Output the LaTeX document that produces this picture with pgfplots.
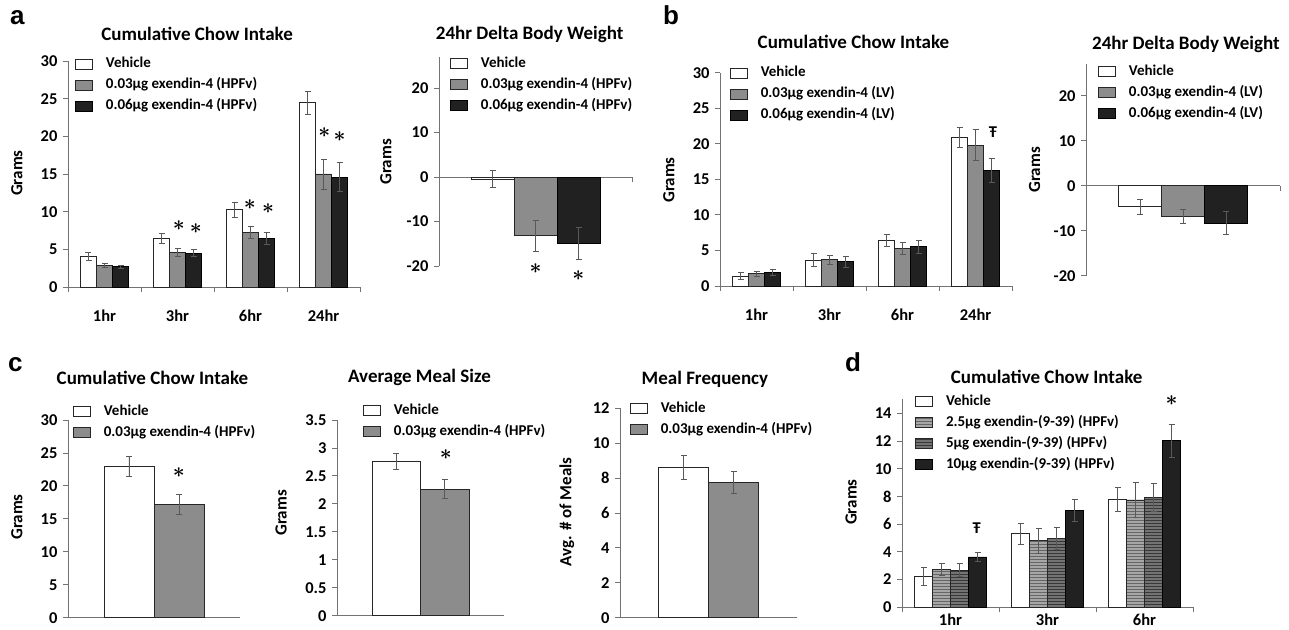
\documentclass[border=0pt]{standalone}
\usepackage{fontspec}
\setmainfont{Carlito}
\newfontfamily\letterfont{Liberation Sans}
\usepackage{pgfplots}
\pgfplotsset{compat=1.18}
\usetikzlibrary{patterns}

\newcommand\tlf{\fontsize{16.5}{18}\selectfont\bfseries}
\newcommand\lgf{\fontsize{15}{16}\selectfont\bfseries}
\newcommand\ttf{\fontsize{19}{21}\selectfont\bfseries}
\newcommand\ylf{\fontsize{17}{19}\selectfont\bfseries}
\newcommand\starf{\fontsize{21.5}{21.5}\selectfont\boldmath}
\newcommand\mystar{$\ast$}
\tikzset{st/.style={font=\starf, inner sep=0pt}}

\pgfplotsset{
  base/.style={
    scale only axis, anchor=south west, clip=false,
    axis y line*=left,
    tick align=outside, major tick length=5pt, minor tick length=5pt,
    axis line style={black!55, line width=0.9pt},
    tick style={black!55, line width=0.9pt},
    ytick pos=left,
    ticklabel style={font=\tlf},
    /pgf/number format/assume math mode=true,
    ylabel style={font=\ylf, anchor=center},
    title style={font=\ttf, anchor=center, yshift=-6pt},
    yticklabel style={xshift=-2pt},
    ybar=0pt,
    area legend,
    legend image code/.code={\draw[##1, line width=0.7pt] (0pt,-5pt) rectangle (17pt,5pt);},
    legend style={draw=none, fill=none, font=\lgf, anchor=north west, inner sep=0pt,
      row sep=8pt, column sep=13pt, legend cell align=left,
      nodes={inner sep=0pt, text height=10pt, text depth=3pt}},
  },
  cat/.style={axis x line*=bottom, every major x tick/.append style={draw=none},
    xticklabel style={yshift=-14pt}},
  delta/.style={axis x line*=middle, xmin=-0.5, xmax=0.5, xtick={0.5}, xticklabel={\phantom{0}},
    ymin=-20, ymax=27, ytick={-20,-10,0,10,20}, bar width=43pt},
  two/.style={axis x line*=bottom, xmin=-0.5, xmax=0.5, xtick=\empty},
  eb/.style={/pgfplots/error bars/y dir=both, /pgfplots/error bars/y explicit,
    /pgfplots/error bars/error bar style={black!65, line width=0.7pt},
    /pgfplots/error bars/error mark options={rotate=90, mark size=3pt, black!65, line width=0.7pt}},
  wb/.style={fill=white, draw=black!85, line width=0.7pt, eb},
  gb/.style={fill=black!45, draw=black!85, line width=0.7pt, eb},
  kb/.style={fill=black!87, draw=black, line width=0.7pt, eb},
  lsb/.style={fill=black!35, draw=black!85, line width=0.7pt, postaction={pattern=horizontal lines, pattern color=black!60}, eb},
  dsb/.style={fill=black!55, draw=black!85, line width=0.7pt, postaction={pattern=horizontal lines, pattern color=black!78}, eb},
}

\begin{document}
\begin{tikzpicture}
\useasboundingbox (0pt,0pt) rectangle (1289pt,629pt);
\fill[white] (0pt,0pt) rectangle (1289pt,629pt);

% ---------------- panel a, left
\begin{axis}[base, cat, at={(68pt,342pt)}, width=292pt, height=226pt,
  ymin=0, ymax=30, ytick={0,5,...,30}, xmin=-0.5, xmax=3.5,
  xtick={0,1,2,3}, xticklabels={1hr,3hr,6hr,24hr}, minor xtick={-0.5,0.5,1.5,2.5,3.5},
  bar width=16pt,
  title={Cumulative Chow Intake}, title style={at={(axis description cs:0.442,1.119)}},
  ylabel={Grams}, ylabel style={at={(axis description cs:-0.175,0.504)}},
  legend style={at={(axis description cs:0.024,1.015)}}]
\addplot[wb] coordinates {(0,4.1) +- (0,0.5) (1,6.45) +- (0,0.7) (2,10.3) +- (0,1.0) (3,24.45) +- (0,1.55)};
\addplot[gb] coordinates {(0,2.9) +- (0,0.25) (1,4.6) +- (0,0.55) (2,7.2) +- (0,0.8) (3,15.0) +- (0,2.0)};
\addplot[kb] coordinates {(0,2.7) +- (0,0.2) (1,4.5) +- (0,0.45) (2,6.45) +- (0,0.75) (3,14.6) +- (0,1.9)};
\legend{Vehicle, 0.03µg exendin-4 (HPFv), 0.06µg exendin-4 (HPFv)}
\node[st] at (axis cs:1.02,8.2) {\mystar};
\node[st] at (axis cs:1.25,7.7) {\mystar};
\node[st] at (axis cs:1.99,11.0) {\mystar};
\node[st] at (axis cs:2.24,10.45) {\mystar};
\node[st] at (axis cs:3.01,20.5) {\mystar};
\node[st] at (axis cs:3.22,20.0) {\mystar};
\end{axis}

% ---------------- panel a, right
\begin{axis}[base, delta, at={(439pt,363pt)}, width=193pt, height=209pt,
  title={24hr Delta Body Weight}, title style={at={(axis description cs:0.47,1.11)}},
  ylabel={Grams}, ylabel style={at={(axis description cs:-0.275,0.498)}},
  legend style={at={(axis description cs:0.057,1.0)}}]
\addplot[wb] coordinates {(0,-0.5) +- (0,1.9)};
\addplot[gb] coordinates {(0,-13.2) +- (0,3.5)};
\addplot[kb] coordinates {(0,-14.9) +- (0,3.6)};
\legend{Vehicle, 0.03µg exendin-4 (HPFv), 0.06µg exendin-4 (HPFv)}
\node[st] at (axis cs:0.0,-20.5) {\mystar};
\node[st] at (axis cs:0.222,-22.25) {\mystar};
\end{axis}

% ---------------- panel b, left
\begin{axis}[base, cat, at={(720pt,343pt)}, width=292pt, height=213.3pt,
  ymin=0, ymax=30, ytick={0,5,...,30}, xmin=-0.5, xmax=3.5,
  xtick={0,1,2,3}, xticklabels={1hr,3hr,6hr,24hr}, minor xtick={-0.5,0.5,1.5,2.5,3.5},
  bar width=16pt,
  title={Cumulative Chow Intake}, title style={at={(axis description cs:0.457,1.146)}},
  ylabel={Grams}, ylabel style={at={(axis description cs:-0.175,0.497)}},
  legend style={at={(axis description cs:0.034,1.028)}}]
\addplot[wb] coordinates {(0,1.4) +- (0,0.5) (1,3.66) +- (0,0.9) (2,6.38) +- (0,0.85) (3,20.86) +- (0,1.4)};
\addplot[gb] coordinates {(0,1.73) +- (0,0.4) (1,3.7) +- (0,0.65) (2,5.3) +- (0,0.8) (3,19.83) +- (0,2.15)};
\addplot[kb] coordinates {(0,1.92) +- (0,0.45) (1,3.42) +- (0,0.75) (2,5.53) +- (0,0.95) (3,16.3) +- (0,1.7)};
\legend{Vehicle, 0.03µg exendin-4 (LV), 0.06µg exendin-4 (LV)}
\node[font=\tlf] at (axis cs:3.24,21.66) {Ŧ};
\end{axis}

% ---------------- panel b, right
\begin{axis}[base, delta, at={(1086pt,353.3pt)}, width=194pt, height=211.5pt,
  title={24hr Delta Body Weight}, title style={at={(axis description cs:0.515,1.093)}},
  ylabel={Grams}, ylabel style={at={(axis description cs:-0.265,0.5)}},
  legend style={at={(axis description cs:0.062,0.996)}}]
\addplot[wb] coordinates {(0,-4.67) +- (0,1.7)};
\addplot[gb] coordinates {(0,-6.74) +- (0,1.55)};
\addplot[kb] coordinates {(0,-8.3) +- (0,2.5)};
\legend{Vehicle, 0.03µg exendin-4 (LV), 0.06µg exendin-4 (LV)}
\end{axis}

% ---------------- panel c, left
\begin{axis}[base, two, at={(68pt,11.3pt)}, width=172pt, height=197.7pt,
  ymin=0, ymax=30, ytick={0,5,...,30}, bar width=50pt,
  title={Cumulative Chow Intake}, title style={at={(axis description cs:0.491,1.212)}},
  ylabel={Grams}, ylabel style={at={(axis description cs:-0.297,0.509)}},
  legend style={at={(axis description cs:0.029,1.076)}}]
\addplot[wb] coordinates {(0,23.0) +- (0,1.5)};
\addplot[gb] coordinates {(0,17.2) +- (0,1.45)};
\legend{Vehicle, 0.03µg exendin-4 (HPFv)}
\node[st] at (axis cs:0.145,21.96) {\mystar};
\end{axis}

% ---------------- panel c, middle
\begin{axis}[base, two, at={(337pt,13.3pt)}, width=167pt, height=195.7pt,
  ymin=0, ymax=3.5, ytick={0,0.5,1,1.5,2,2.5,3,3.5}, bar width=48.5pt,
  title={Average Meal Size}, title style={at={(axis description cs:0.494,1.215)}},
  ylabel={Grams}, ylabel style={at={(axis description cs:-0.335,0.525)}},
  legend style={at={(axis description cs:0.156,1.082)}}]
\addplot[wb] coordinates {(0,2.76) +- (0,0.14)};
\addplot[gb] coordinates {(0,2.26) +- (0,0.17)};
\legend{Vehicle, 0.03µg exendin-4 (HPFv)}
\node[st] at (axis cs:0.151,2.88) {\mystar};
\end{axis}

% ---------------- panel c, right
\begin{axis}[base, two, at={(620pt,11.3pt)}, width=177pt, height=209.4pt,
  ymin=0, ymax=12, ytick={0,2,...,12}, bar width=50pt,
  title={Meal Frequency}, title style={at={(axis description cs:0.48,1.14)}},
  ylabel={Avg. \# of Meals}, ylabel style={at={(axis description cs:-0.30,0.506)}},
  legend style={at={(axis description cs:0.056,1.031)}}]
\addplot[wb] coordinates {(0,8.63) +- (0,0.7)};
\addplot[gb] coordinates {(0,7.76) +- (0,0.63)};
\legend{Vehicle, 0.03µg exendin-4 (HPFv)}
\end{axis}

% ---------------- panel d
\begin{axis}[base, cat, at={(902pt,21.7pt)}, width=291pt, height=207.9pt,
  ymin=0, ymax=15, ytick={0,2,...,14}, xmin=-0.5, xmax=2.5,
  xtick={0,1,2}, xticklabels={1hr,3hr,6hr}, minor xtick={-0.5,0.5,1.5,2.5},
  bar width=18pt, xticklabel style={yshift=16pt},
  title={Cumulative Chow Intake}, title style={at={(axis description cs:0.497,1.11)}},
  ylabel={Grams}, ylabel style={at={(axis description cs:-0.175,0.506)}},
  legend style={at={(axis description cs:0.045,1.021)}}]
\addplot[wb] coordinates {(0,2.26) +- (0,0.65) (1,5.32) +- (0,0.77) (2,7.77) +- (0,0.87)};
\addplot[lsb] coordinates {(0,2.74) +- (0,0.4) (1,4.81) +- (0,0.9) (2,7.75) +- (0,1.25)};
\addplot[dsb] coordinates {(0,2.69) +- (0,0.48) (1,4.98) +- (0,0.8) (2,7.94) +- (0,1.0)};
\addplot[kb] coordinates {(0,3.63) +- (0,0.32) (1,7.0) +- (0,0.78) (2,12.03) +- (0,1.2)};
\legend{Vehicle, 2.5µg exendin-(9-39) (HPFv), 5µg exendin-(9-39) (HPFv), 10µg exendin-(9-39) (HPFv)}
\node[font=\tlf] at (axis cs:0.27,5.7) {Ŧ};
\node[st] at (axis cs:2.28,14.9) {\mystar};
\end{axis}

% panel letters
\node[font={\letterfont\bfseries\fontsize{26}{26}\selectfont}, anchor=base west, inner sep=0pt] at (10pt,604pt) {a};
\node[font={\letterfont\bfseries\fontsize{26}{26}\selectfont}, anchor=base west, inner sep=0pt] at (663pt,604pt) {b};
\node[font={\letterfont\bfseries\fontsize{26}{26}\selectfont}, anchor=base west, inner sep=0pt] at (8pt,257.3pt) {c};
\node[font={\letterfont\bfseries\fontsize{26}{26}\selectfont}, anchor=base west, inner sep=0pt] at (845pt,257.3pt) {d};
\end{tikzpicture}
\end{document}
